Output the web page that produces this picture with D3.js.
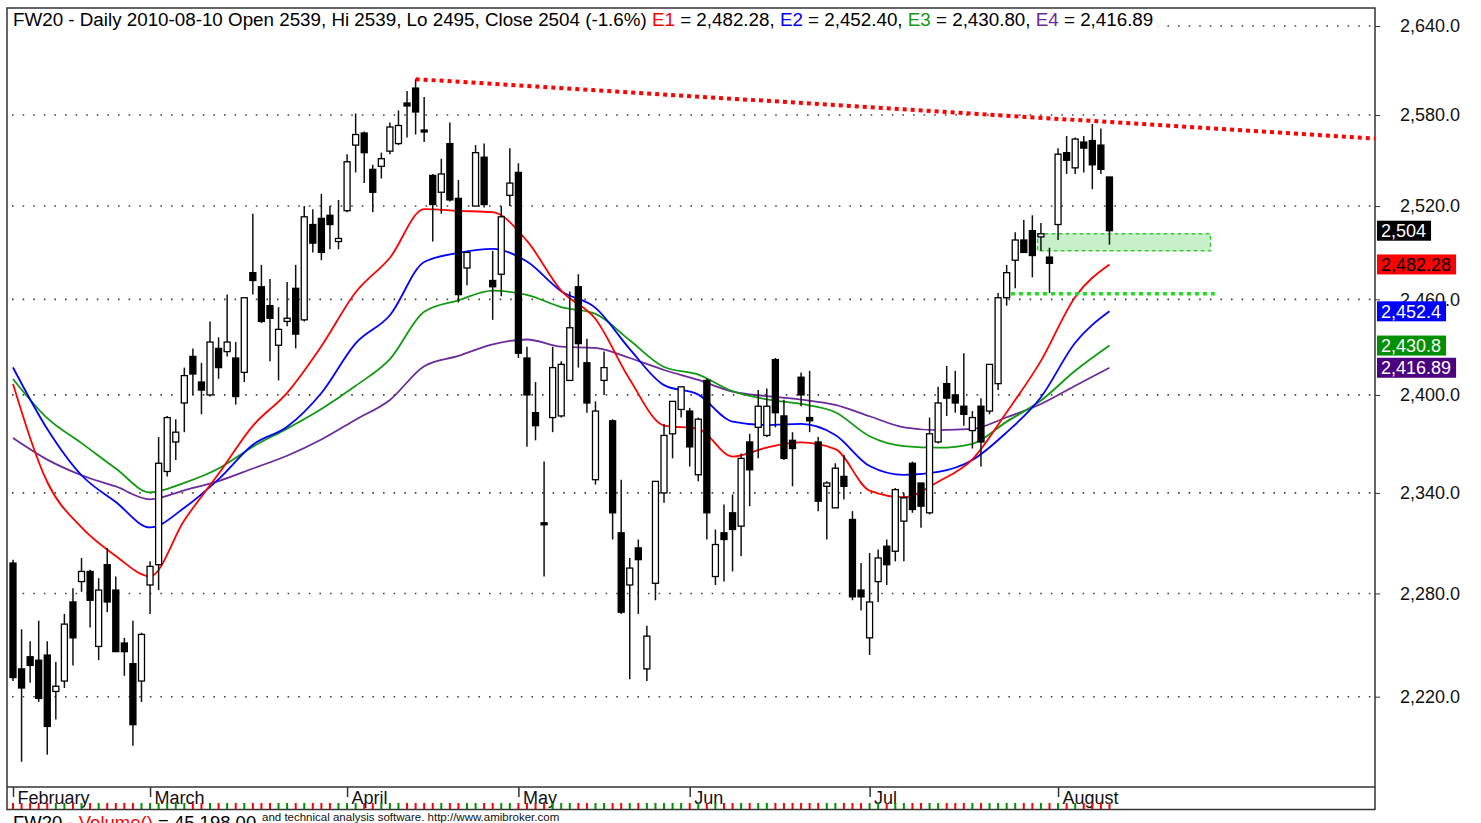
<!DOCTYPE html>
<html>
<head>
<meta charset="utf-8">
<script src="https://cdn.jsdelivr.net/npm/d3@7"></script>
<style>
  body { margin: 0; background: #fff; }
  svg { display: block; font-family: "Liberation Sans", Arial, sans-serif; }
</style>
</head>
<body>
<svg id="chart" width="1481" height="823"></svg>
<script>
// months on the x axis (index of the first trading day of each month)
const monthLabels = ["February", "March", "April", "May", "Jun", "Jul", "August"];
const monthStart = [0, 16, 39, 59, 79, 100, 122];

// daily OHLC, FW20, 2010-02-05 .. 2010-08-10
const open = [2298,2236,2243,2241,2244,2223,2229,2275,2287,2293,2249,2297,2282,2251,2239,2229,2285,2297,2353,2371,
  2395,2424,2408,2400,2429,2427,2423,2414,2477,2468,2456,2431,2446,2467,2447,2508,2512,2514,2497,2517,
  2560,2568,2544,2546,2556,2561,2588,2598,2570,2540,2529,2561,2525,2480,2520,2552,2472,2476,2527,2542,
  2423,2389,2322,2386,2387,2409,2468,2420,2348,2409,2384,2316,2285,2307,2236,2286,2340,2376,2391,2390,
  2351,2409,2290,2316,2328,2320,2371,2380,2375,2422,2387,2372,2411,2386,2371,2344,2331,2350,2324,2282,
  2254,2287,2308,2305,2323,2358,2346,2328,2371,2407,2400,2393,2378,2393,2390,2407,2461,2485,2498,2504,
  2500,2487,2508,2555,2545,2562,2563,2560,2539];
const high = [2300,2259,2252,2264,2252,2240,2268,2283,2301,2294,2289,2307,2290,2254,2264,2257,2299,2374,2387,2385,
  2417,2429,2420,2446,2436,2463,2433,2461,2515,2482,2473,2455,2471,2482,2520,2518,2528,2520,2524,2554,
  2581,2569,2547,2555,2575,2583,2596,2604,2592,2541,2551,2575,2537,2490,2560,2561,2491,2520,2558,2548,
  2430,2408,2359,2430,2421,2465,2476,2435,2396,2427,2385,2348,2301,2312,2261,2347,2382,2396,2405,2392,
  2386,2410,2318,2333,2339,2364,2376,2403,2404,2423,2397,2377,2414,2415,2374,2347,2358,2363,2329,2298,
  2304,2306,2312,2343,2340,2359,2346,2386,2405,2418,2415,2426,2390,2398,2419,2464,2482,2503,2511,2514,
  2509,2493,2558,2566,2565,2566,2574,2571,2539];
const low = [2229,2183,2228,2217,2187,2207,2225,2238,2281,2260,2241,2269,2246,2232,2192,2217,2268,2282,2350,2360,
  2377,2400,2388,2399,2410,2424,2394,2408,2463,2445,2421,2409,2443,2429,2446,2490,2485,2492,2492,2516,
  2542,2535,2516,2538,2554,2560,2565,2567,2562,2497,2515,2523,2458,2469,2520,2519,2447,2462,2520,2423,
  2368,2372,2290,2377,2386,2409,2417,2389,2345,2400,2312,2268,2230,2268,2229,2276,2334,2361,2386,2356,
  2347,2312,2285,2287,2293,2302,2332,2361,2374,2380,2360,2344,2393,2377,2329,2312,2331,2336,2276,2270,
  2244,2275,2285,2299,2299,2328,2319,2327,2370,2387,2389,2381,2367,2356,2388,2403,2456,2467,2490,2474,
  2491,2464,2498,2541,2541,2542,2531,2541,2495];
const close = [2231,2225,2238,2219,2203,2226,2262,2254,2293,2276,2282,2275,2246,2246,2204,2256,2296,2358,2386,2377,
  2412,2413,2403,2433,2417,2433,2399,2461,2472,2446,2448,2441,2448,2438,2513,2496,2490,2508,2499,2549,
  2567,2555,2529,2551,2572,2573,2586,2582,2569,2521,2541,2524,2463,2490,2555,2521,2468,2513,2535,2426,
  2400,2381,2321,2417,2419,2442,2432,2395,2390,2417,2328,2269,2295,2300,2255,2347,2375,2396,2405,2368,
  2385,2328,2309,2312,2318,2361,2354,2393,2393,2389,2361,2367,2400,2384,2335,2346,2355,2344,2278,2278,
  2275,2301,2297,2342,2337,2330,2332,2376,2395,2398,2395,2388,2386,2371,2419,2461,2477,2498,2490,2488,
  2502,2483,2554,2550,2564,2558,2547,2544,2504];

// moving averages every 4th session
const emaIdx = [0,4,8,12,16,20,24,28,32,36,40,44,48,52,56,60,64,68,72,76,80,84,88,92,96,100,104,108,112,116,120,124,128];
const e1 = [2406.8,2346.6,2319.2,2302.2,2290.1,2323.5,2351.6,2380.9,2401.3,2430.4,2464.5,2486.6,2518,2516.9,2516,2497.4,
  2465.5,2447.5,2409.6,2381.1,2379,2362.1,2367.6,2370.7,2366.6,2341.4,2337.4,2346.8,2360.4,2389.3,2421.2,2461.5,2482.28];
const e2 = [2417.1,2379,2350.7,2334.5,2319.2,2331,2348.3,2369.3,2380.3,2401.2,2432.2,2449.9,2483.8,2489.7,2492.3,2484.1,
  2465.2,2454.6,2428.6,2406.1,2400.2,2383.5,2381.4,2382.1,2375.3,2356.3,2350.9,2352.7,2360,2376.9,2398.6,2432.6,2452.4];
const e3 = [2409.9,2385.6,2370.3,2354.8,2340.3,2346.1,2354.8,2368.1,2379.2,2391.3,2405.7,2422.3,2452.1,2459.4,2465.5,2462.8,
  2455.1,2450.8,2434.1,2417.4,2412.6,2402.3,2397.3,2394.4,2389.3,2374.5,2368.5,2367.5,2369.9,2383.5,2396.5,2415,2430.8];
const e4 = [2373.4,2360.2,2350.7,2343.9,2336.1,2341.6,2347.2,2354.8,2362.6,2372.5,2384.7,2396.9,2417.9,2424.3,2431.6,2434.6,
  2430.1,2429.3,2423,2415.5,2409.3,2402,2399.2,2397.1,2393.8,2386.8,2380,2378.3,2379,2386.2,2394.4,2405.7,2416.89];

const yTicks = [2220, 2280, 2340, 2400, 2460, 2520, 2580, 2640];

// drawn studies: falling trend line through two highs, support line, gap zone
const trendIdx = [47, 126];
const trendVal = [2604, 2576];
const supportFrom = 116.5, supportTo = 140.3, supportVal = 2463.5;
const zoneFrom = 119.6, zoneTo = 139.8, zoneLo = 2491, zoneHi = 2502;

const tagValues = [2504, 2482.28, 2452.4, 2430.8, 2416.89];
const tagLabels = ["2,504", "2,482.28", "2,452.4", "2,430.8", "2,416.89"];

const RED = "#ff0000", BLUE = "#0000ff", GREEN = "#119911", PURPLE = "#6a2c9a";
const tagBg = ["#000000", RED, BLUE, "#009000", "#4b0082"];
const tagFg = ["#fff", "#000", "#fff", "#fff", "#fff"];

const plot = { left: 7, right: 1375, top: 8, bottom: 787 };
const x = d3.scaleLinear().domain([-0.7, 159]).range([plot.left, plot.right]);
const y = d3.scaleLog().domain([2168.8, 2652.3]).range([plot.bottom, plot.top]);

const svg = d3.select("#chart");

svg.append("clipPath").attr("id", "plotclip")
  .append("rect")
  .attr("x", plot.left).attr("y", plot.top)
  .attr("width", plot.right - plot.left).attr("height", plot.bottom - plot.top);

// frame
svg.append("rect")
  .attr("x", plot.left).attr("y", plot.top)
  .attr("width", plot.right - plot.left).attr("height", 809.5 - plot.top)
  .attr("fill", "none").attr("stroke", "#333").attr("stroke-width", 1.5);
svg.append("line")
  .attr("x1", plot.left).attr("x2", plot.right)
  .attr("y1", plot.bottom).attr("y2", plot.bottom)
  .attr("stroke", "#333").attr("stroke-width", 1.5);

// dotted grid
svg.append("g").selectAll("line")
  .data(yTicks)
  .enter()
  .append("line")
  .attr("x1", 12).attr("x2", plot.right - 3)
  .attr("y1", (d) => y(d)).attr("y2", (d) => y(d))
  .attr("stroke", "#444").attr("stroke-width", 1.6)
  .attr("stroke-dasharray", "1.6,9");

// right price axis
const yAxis = svg.append("g")
  .attr("transform", `translate(${plot.right}, 0)`)
  .call(d3.axisRight(y).tickValues(yTicks).tickFormat(d3.format(",.1f")).tickSize(5).tickPadding(20));
yAxis.select(".domain").remove();
yAxis.selectAll("line").attr("stroke", "#333");
yAxis.selectAll("text").attr("font-size", 18).attr("fill", "#111")
  .attr("font-family", "Liberation Sans, Arial, sans-serif");

const plotG = svg.append("g").attr("clip-path", "url(#plotclip)");

// gap zone (behind the price)
plotG.append("rect")
  .attr("x", x(zoneFrom)).attr("y", y(zoneHi))
  .attr("width", x(zoneTo) - x(zoneFrom)).attr("height", y(zoneLo) - y(zoneHi))
  .attr("fill", "#c8f0c8").attr("stroke", "#33cc33")
  .attr("stroke-width", 1.5).attr("stroke-dasharray", "4,3");

// moving averages
const emaLine = d3.line().x((d) => x(d.i)).y((d) => y(d.v)).curve(d3.curveMonotoneX);
[[e4, PURPLE], [e3, GREEN], [e2, BLUE], [e1, RED]].forEach(([vals, col]) => {
  plotG.append("path")
    .datum(vals.map((v, k) => ({ i: emaIdx[k], v: v })))
    .attr("d", emaLine)
    .attr("fill", "none").attr("stroke", col).attr("stroke-width", 1.8);
});

// candles
const candles = open.map((o, i) => ({ i, o, h: high[i], l: low[i], c: close[i] }));
const cg = plotG.append("g").selectAll("g")
  .data(candles)
  .enter()
  .append("g");
cg.append("line")
  .attr("x1", (d) => x(d.i)).attr("x2", (d) => x(d.i))
  .attr("y1", (d) => y(d.h)).attr("y2", (d) => y(d.l))
  .attr("stroke", "#111").attr("stroke-width", 1.5);
cg.append("rect")
  .attr("x", (d) => x(d.i) - 3)
  .attr("width", 6)
  .attr("y", (d) => y(Math.max(d.o, d.c)))
  .attr("height", (d) => Math.max(2, y(Math.min(d.o, d.c)) - y(Math.max(d.o, d.c))))
  .attr("fill", (d) => (d.c >= d.o ? "#fff" : "#000"))
  .attr("stroke", "#000").attr("stroke-width", 1.3);

// falling trend line, extended to the right edge
const tx0 = x(trendIdx[0]), ty0 = y(trendVal[0]);
const tx1 = x(trendIdx[1]), ty1 = y(trendVal[1]);
plotG.append("line")
  .attr("x1", tx0).attr("y1", ty0)
  .attr("x2", plot.right).attr("y2", ty0 + ((plot.right - tx0) * (ty1 - ty0)) / (tx1 - tx0))
  .attr("stroke", RED).attr("stroke-width", 4).attr("stroke-dasharray", "4,4");

// support line
plotG.append("line")
  .attr("x1", x(supportFrom)).attr("x2", x(supportTo))
  .attr("y1", y(supportVal)).attr("y2", y(supportVal))
  .attr("stroke", "#22dd22").attr("stroke-width", 3.5).attr("stroke-dasharray", "4,4");

// title with white background
const titleBg = svg.append("rect").attr("fill", "#fff");
const title = svg.append("text")
  .attr("x", 13).attr("y", 25.5)
  .attr("font-size", 18.8).attr("fill", "#000");
[
  ["FW20 - Daily 2010-08-10 Open 2539, Hi 2539, Lo 2495, Close 2504 (-1.6%) ", "#000"],
  ["E1", RED], [" = 2,482.28, ", "#000"],
  ["E2", BLUE], [" = 2,452.40, ", "#000"],
  ["E3", GREEN], [" = 2,430.80, ", "#000"],
  ["E4", PURPLE], [" = 2,416.89", "#000"]
].forEach(([t, c]) => title.append("tspan").attr("fill", c).text(t));
const tb = title.node().getBBox();
titleBg
  .attr("x", plot.left + 1).attr("y", plot.top + 1)
  .attr("width", tb.x + tb.width + 4 - plot.left).attr("height", 26);

// value tags on the price axis
const tags = svg.append("g").selectAll("g")
  .data(tagValues)
  .enter()
  .append("g")
  .attr("transform", (d) => `translate(1377, ${y(d)})`);
const tagRects = tags.append("rect")
  .attr("x", 0).attr("y", -10).attr("height", 20)
  .attr("fill", (d, i) => tagBg[i]);
const tagTexts = tags.append("text")
  .attr("x", 4).attr("dy", "0.35em")
  .attr("font-size", 18)
  .attr("fill", (d, i) => tagFg[i])
  .text((d, i) => tagLabels[i]);
tagTexts.each(function (d, i) {
  const w = this.getComputedTextLength();
  d3.select(this.parentNode).select("rect").attr("width", w + 9);
});

// month axis
const xAxis = svg.append("g")
  .attr("transform", `translate(0, ${plot.bottom})`)
  .call(d3.axisBottom(x).tickValues(monthStart).tickFormat((d, i) => monthLabels[i]).tickSize(10).tickSizeOuter(0));
xAxis.select(".domain").remove();
xAxis.selectAll("line").attr("stroke", "#333").attr("stroke-width", 1.5);
xAxis.selectAll("text")
  .attr("text-anchor", "start").attr("x", 4).attr("y", 4)
  .attr("font-size", 18).attr("fill", "#111")
  .attr("font-family", "Liberation Sans, Arial, sans-serif");

// squeezed volume pane: one tick per session, coloured by direction
svg.append("g").selectAll("line")
  .data(candles)
  .enter()
  .append("line")
  .attr("x1", (d) => x(d.i)).attr("x2", (d) => x(d.i))
  .attr("y1", 803).attr("y2", 809)
  .attr("stroke", (d) => (d.c >= d.o ? "#009000" : RED))
  .attr("stroke-width", 2);

// volume pane title, cut by the bottom of the picture
const vt = svg.append("text").attr("x", 13).attr("y", 828.5).attr("font-size", 18.5);
vt.append("tspan").attr("fill", "#000").text("FW20 - ");
vt.append("tspan").attr("fill", RED).text("Volume()");
vt.append("tspan").attr("fill", "#000").text(" = 45,198.00");
svg.append("text")
  .attr("x", 262).attr("y", 820.5)
  .attr("font-size", 11.5).attr("fill", "#111")
  .text("and technical analysis software. http://www.amibroker.com");
</script>
</body>
</html>
